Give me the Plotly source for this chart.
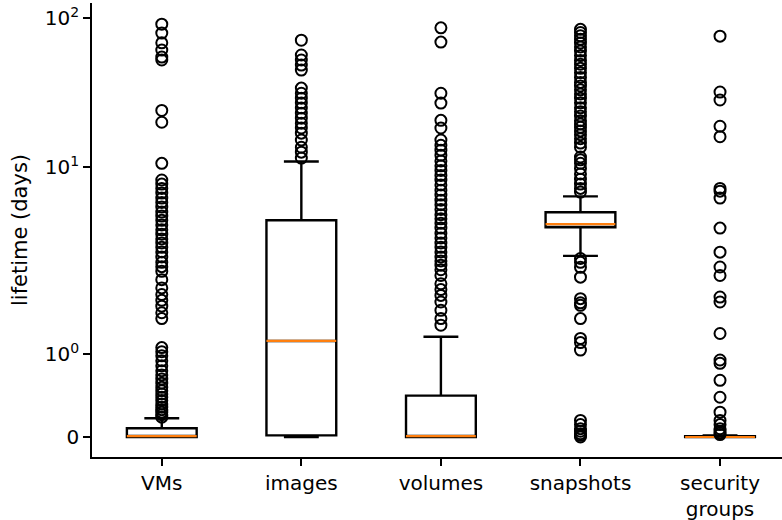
import math
import plotly.graph_objects as go

# ---- data (lifetime in days) ----
categories = ["VMs", "images", "volumes", "snapshots", "security<br>groups"]
q1 = [0.0, 0.02, 0.0, 3.95, 0.0]
median = [0.01, 1.16, 0.01, 4.15, 0.0]
q3 = [0.105, 4.4, 0.5, 4.98, 0.01]
lower_fence = [0.0, 0.0, 0.0, 2.54, 0.0]
upper_fence = [0.226, 10.9, 1.21, 6.37, 0.02]

out_vms = [0.24, 0.27, 0.3, 0.33, 0.36, 0.4, 0.44, 0.48, 0.52, 0.56, 0.6, 0.65, 0.7,
           0.75, 0.8, 0.86, 0.92, 0.98, 1.03, 1.08,
           1.43, 1.5, 1.58, 1.65, 1.72, 1.8, 1.9, 2.0, 2.15, 2.3, 2.5, 2.7, 2.9, 3.1,
           3.3, 3.55, 3.8, 4.1, 4.4, 4.7, 5.0, 5.4, 5.8, 6.2, 6.7, 7.2, 7.7, 8.2,
           10.6, 20.0, 24.0, 52.3, 54.7, 61.0, 68.2, 79.3, 91.0]
out_images = [11.5, 12.6, 13.6, 15.2, 16.9, 18.3, 19.7, 21.3, 23.0, 24.9, 26.9, 29.0,
              31.3, 33.9, 44.8, 48.4, 52.3, 56.5, 71.0]
out_volumes = [1.35, 1.43, 1.53, 1.63, 1.71, 1.78, 1.85, 1.95, 2.05, 2.2, 2.35, 2.5,
               2.7, 2.9, 3.1, 3.35, 3.6, 3.9, 4.2, 4.5, 4.8, 5.2, 5.6, 6.0, 6.5, 7.0,
               7.6, 8.2, 8.8, 9.5, 10.2, 11.0, 12.0, 13.0, 14.0, 15.2, 18.3, 20.6,
               26.9, 31.3, 69.0, 86.0]
out_snapshots = [0.0, 0.02, 0.04, 0.07, 0.1, 0.15, 0.2,
                 1.05, 1.14, 1.19, 1.43, 1.59, 1.62, 1.67, 1.93, 2.13, 2.3, 2.44,
                 6.8, 7.2, 7.7, 8.3, 9.0, 9.8, 10.6, 11.2, 11.7,
                 13.6, 14.5, 15.5, 16.5, 17.5, 18.5, 19.5, 20.5, 22.0, 23.5, 25.0,
                 27.0, 29.0, 31.0, 33.0, 35.0, 37.0, 40.0, 43.0, 46.0, 49.0, 52.0,
                 56.0, 60.0, 64.0, 68.0, 72.0, 76.0, 80.0, 84.0]
out_secgroups = [0.03, 0.05, 0.07, 0.1, 0.15, 0.2, 0.3, 0.48, 0.685, 0.89, 0.93, 1.25,
                 1.63, 1.69, 1.95, 2.14, 2.69, 3.9, 6.2, 6.9, 7.2, 16.0, 18.8, 28.2,
                 31.9, 75.6]
outliers = [out_vms, out_images, out_volumes, out_snapshots, out_secgroups]

y_tick_values = [0, 1, 10, 100]
y_tick_text = ["0", "10<sup>0</sup>", "10<sup>1</sup>", "10<sup>2</sup>"]


# matplotlib-style symlog (base 10, linthresh 2, linscale 1), in decade units
def symlog(v, linthresh=2.0, linscale=1.0, base=10.0):
    la = linscale / (1.0 - 1.0 / base)
    s = 1 if v >= 0 else -1
    a = abs(v)
    if a <= linthresh:
        return s * a / linthresh * la
    return s * (la + math.log10(a / linthresh))


T = lambda arr: [symlog(v) for v in arr]

positions = list(range(1, len(categories) + 1))
box_w = 0.5

fig = go.Figure()
for i, p in enumerate(positions):
    fig.add_trace(go.Box(
        x=[p], q1=[symlog(q1[i])], median=[symlog(median[i])], q3=[symlog(q3[i])],
        lowerfence=[symlog(lower_fence[i])], upperfence=[symlog(upper_fence[i])],
        width=box_w, whiskerwidth=0.5, boxpoints=False,
        line=dict(color="black", width=2.4), fillcolor="rgba(0,0,0,0)",
        showlegend=False, hoverinfo="skip"))

# orange median lines
mx, my = [], []
for i, p in enumerate(positions):
    mx += [p - box_w / 2, p + box_w / 2, None]
    my += [symlog(median[i]), symlog(median[i]), None]
fig.add_trace(go.Scatter(x=mx, y=my, mode="lines",
                         line=dict(color="#ff7f0e", width=2.2), showlegend=False))

# fliers
for i, p in enumerate(positions):
    fig.add_trace(go.Scatter(
        x=[p] * len(outliers[i]), y=T(outliers[i]), mode="markers",
        marker=dict(symbol="circle", size=11, color="rgba(0,0,0,0)",
                    line=dict(color="black", width=2)),
        showlegend=False))

axis_style = dict(showline=True, linecolor="black", linewidth=1.6, ticks="outside",
                  ticklen=7, tickwidth=1.6, tickcolor="black", showgrid=False,
                  zeroline=False, mirror=False)

fig.update_layout(
    width=782, height=520,
    margin=dict(l=92, r=0, t=3, b=63),
    plot_bgcolor="white", paper_bgcolor="white",
    font=dict(family="DejaVu Sans", size=20, color="black"),
    xaxis=dict(range=[0.5, 5.444], tickvals=positions, ticktext=categories,
               **axis_style),
    yaxis=dict(range=[-0.134, 2.911], tickvals=T(y_tick_values), ticktext=y_tick_text,
               title=dict(text="lifetime (days)", standoff=11, font=dict(size=21)),
               **axis_style),
)

fig.write_html("out.html")
